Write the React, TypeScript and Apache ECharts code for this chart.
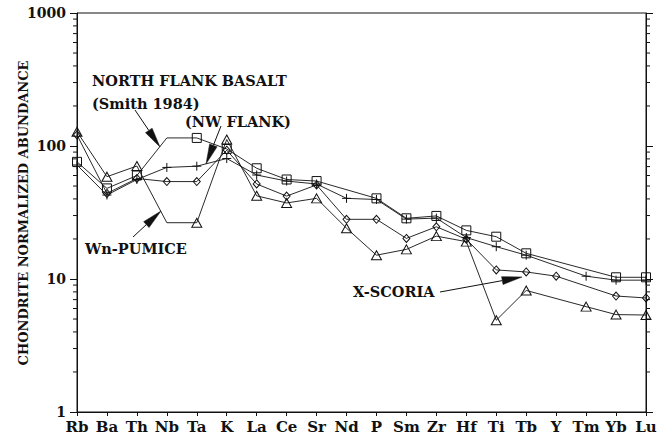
import React, { useEffect, useRef } from 'react';
import * as echarts from 'echarts';

// Trace elements, in plotting order along the x axis
const elements = ['Rb', 'Ba', 'Th', 'Nb', 'Ta', 'K', 'La', 'Ce', 'Sr', 'Nd', 'P', 'Sm', 'Zr', 'Hf', 'Ti', 'Tb', 'Y', 'Tm', 'Yb', 'Lu'];

// Chondrite-normalized abundances (null = not analysed)
const northFlankBasalt = [76, 48, 60, 115, 115, 95, 68, 56, 54.5, null, 40.4, 28.6, 29.8, 23.2, 20.8, 15.6, null, null, 10.3, 10.3];
const nwFlank = [72, 42.8, 56, 69, 70.5, 80.5, 60.5, 54.5, 51.8, 40.4, 39.6, 28.2, 28.7, 20.5, 17.5, 15.1, null, 10.5, 9.8, 9.8];
const xScoria = [121, 44, 57, 54, 54, 93, 51.8, 42, 51, 28.1, 28.1, 20.2, 24.7, 19.9, 11.7, 11.3, 10.5, null, 7.45, 7.2];
const wnPumice = [128, 58.8, 70.7, 26.5, 26.5, 112, 42.2, 37.3, 40.4, 24.1, 15.1, 16.7, 21, 19.1, 4.9, 8.2, null, 6.2, 5.4, 5.36];

// Points drawn as a bend in the line but without a symbol
const basaltUnmarked = ['Nb'];
const pumiceUnmarked = ['Nb'];

const yTicks = [1, 10, 100, 1000];

const SERIF = 'DejaVu Serif';
const INK = '#111';

const plusPath = 'path://M5 0L5 10M0 5L10 5';

function buildSeries(name: string, values: (number | null)[], symbol: string, size: any, unmarked: string[]) {
  return {
    name,
    type: 'line',
    data: values.map((v, i) =>
      v == null ? '-' : unmarked.includes(elements[i]) ? { value: v, symbol: 'none' } : v
    ),
    symbol,
    symbolSize: size,
    connectNulls: true,
    showAllSymbol: true,
    silent: true,
    lineStyle: { color: INK, width: 0.9 },
    itemStyle: { color: 'rgba(0,0,0,0)', borderColor: INK, borderWidth: 1 },
    emphasis: { disabled: true },
    z: 3,
  };
}

function arrow(id: string, from: [number, number], tip: [number, number], len = 20, half = 4) {
  const dx = tip[0] - from[0];
  const dy = tip[1] - from[1];
  const d = Math.hypot(dx, dy);
  const ux = dx / d;
  const uy = dy / d;
  const bx = tip[0] - ux * len;
  const by = tip[1] - uy * len;
  const nx = -uy * half;
  const ny = ux * half;
  return [
    {
      id: id + '-shaft',
      type: 'line',
      shape: { x1: from[0], y1: from[1], x2: bx, y2: by },
      style: { stroke: INK, lineWidth: 1 },
      silent: true,
    },
    {
      id: id + '-head',
      type: 'polygon',
      shape: { points: [tip, [bx + nx, by + ny], [bx - nx, by - ny]] },
      style: { fill: INK, stroke: INK, lineWidth: 0.5 },
      silent: true,
    },
  ];
}

function label(id: string, text: string, x: number, y: number, size = 14.5) {
  return {
    id,
    type: 'text',
    x,
    y,
    silent: true,
    style: {
      text,
      fontFamily: SERIF,
      fontWeight: 'bold',
      fontSize: size,
      fill: INK,
      textAlign: 'left',
      textVerticalAlign: 'middle',
      align: 'left',
      verticalAlign: 'middle',
    },
  };
}

export default function App() {
  const ref = useRef<HTMLDivElement>(null);

  useEffect(() => {
    if (!ref.current) return;
    const chart = echarts.init(ref.current, undefined, { renderer: 'svg' });

    const yAxisBase = {
      type: 'log',
      logBase: 10,
      min: 1,
      max: 1000,
      axisLine: { show: true, lineStyle: { color: INK, width: 1 } },
      axisTick: { show: true, inside: false, length: 7, lineStyle: { color: INK, width: 1 } },
      splitLine: { show: false },
      minorTick: { show: false },
    };

    chart.setOption({
      animation: false,
      backgroundColor: '#fff',
      textStyle: { fontFamily: SERIF },
      grid: { left: 77, right: 25, top: 13, bottom: 27, show: true, borderColor: INK, borderWidth: 1 },
      xAxis: {
        type: 'category',
        data: elements,
        boundaryGap: false,
        axisLine: { show: true, lineStyle: { color: INK, width: 1 } },
        axisTick: { show: true, inside: false, length: 4, lineStyle: { color: INK } },
        axisLabel: { color: INK, fontFamily: SERIF, fontWeight: 'bold', fontSize: 15, margin: 7, interval: 0 },
        splitLine: { show: false },
      },
      yAxis: [
        {
          ...yAxisBase,
          position: 'left',
          axisLabel: {
            color: INK,
            fontFamily: SERIF,
            fontWeight: 'bold',
            fontSize: 14,
            margin: 11,
            formatter: (v: number) => (yTicks.includes(v) ? String(v) : ''),
          },
        },
        {
          ...yAxisBase,
          position: 'right',
          axisLabel: { show: false },
        },
      ],
      series: [
        buildSeries('North Flank Basalt', northFlankBasalt, 'rect', 9, basaltUnmarked),
        buildSeries('NW Flank', nwFlank, plusPath, 9, []),
        buildSeries('X-Scoria', xScoria, 'diamond', [7, 8], []),
        buildSeries('Wn-Pumice', wnPumice, 'triangle', [10, 9], pumiceUnmarked),
      ],
    });

    // Logarithmic minor ticks (2..9 within each decade) on both vertical axes
    const xl = chart.convertToPixel({ xAxisIndex: 0 }, 0) as number;
    const xr = chart.convertToPixel({ xAxisIndex: 0 }, elements.length - 1) as number;
    const minor: any[] = [];
    for (let k = 0; k < 3; k++) {
      for (let m = 2; m <= 9; m++) {
        const y = chart.convertToPixel({ yAxisIndex: 0 }, m * Math.pow(10, k)) as number;
        minor.push({
          type: 'line',
          silent: true,
          shape: { x1: xl - 4, y1: y, x2: xl, y2: y },
          style: { stroke: INK, lineWidth: 1 },
        });
        minor.push({
          type: 'line',
          silent: true,
          shape: { x1: xr, y1: y, x2: xr + 4, y2: y },
          style: { stroke: INK, lineWidth: 1 },
        });
      }
    }

    chart.setOption({
      graphic: [
        ...minor,
        {
          type: 'text',
          x: 23,
          y: 213,
          rotation: Math.PI / 2,
          silent: true,
          style: {
            text: 'CHONDRITE NORMALIZED ABUNDANCE',
            fontFamily: SERIF,
            fontWeight: 'bold',
            fontSize: 13,
            fill: INK,
            textAlign: 'center',
            textVerticalAlign: 'middle',
            align: 'center',
            verticalAlign: 'middle',
          },
        },
        label('nfb', 'NORTH FLANK BASALT', 92, 80),
        label('smith', '(Smith 1984)', 92, 103),
        label('nw', '(NW FLANK)', 185, 121),
        label('wn', 'Wn-PUMICE', 85, 248),
        label('xs', 'X-SCORIA', 353, 291),
        ...arrow('a-smith', [135, 110], [160, 147]),
        ...arrow('a-nw', [221, 126], [206, 164]),
        ...arrow('a-wn', [133, 237], [161, 211]),
        ...arrow('a-xs', [440, 292], [522, 277]),
      ],
    });

    return () => chart.dispose();
  }, []);

  return (
    <div
      ref={ref}
      style={{ position: 'fixed', left: 0, top: 0, width: 671, height: 439, background: '#fff' }}
    />
  );
}
